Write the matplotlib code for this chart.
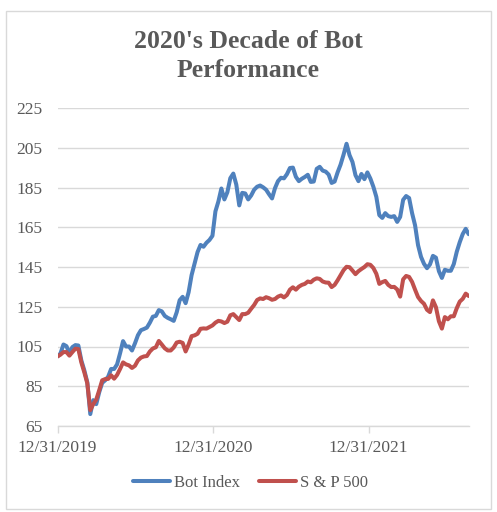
import numpy as np
import pandas as pd
import matplotlib
matplotlib.use("Agg")
import matplotlib.pyplot as plt
import matplotlib.dates as mdates
from matplotlib.patches import Rectangle

# weekly closes, indexed to 100 at 12/31/2019
start_date = "2019-12-31"

bot_index = [
    100, 101.5, 106, 105.2, 101.6, 104.7, 105.7, 105.5, 98, 93,
    87, 71, 78, 76, 82, 86.7, 88, 89.8, 93.7, 93.7,
    96, 101.6, 107.7, 105, 105, 103, 106.6, 110.7, 113.2, 113.8,
    114.5, 117, 120, 120.4, 123.3, 122.7, 120.4, 119.4, 118.7, 117.9,
    122.2, 128.3, 130, 126.8, 132.3, 140.9, 146.6, 152.5, 156.1, 155.2,
    157.2, 158.6, 160.7, 173, 178, 184.5, 179, 182.6, 189.7, 192,
    186.5, 176, 182.3, 182, 179, 181, 183.9, 185.4, 186, 185.1,
    183.9, 181.6, 179.5, 184.7, 188.2, 189.9, 189.6, 191.7, 194.8, 195,
    190.4, 188.2, 189.4, 190.3, 191.4, 187.8, 188, 194.4, 195.4, 193.5,
    193, 191.5, 187.3, 188, 192.6, 196.5, 201.5, 207, 201.3, 197.8,
    191.2, 188.2, 191.8, 189.2, 192.6, 189.5, 185.4, 180.3, 171.1, 169.7,
    172.1, 170.6, 170.2, 170.6, 167.7, 170.2, 178.8, 180.7, 179.7, 172.1,
    166, 156, 150.1, 146.6, 144.4, 146.3, 150.6, 149.7, 142.9, 139.5,
    143.6, 143.1, 143.1, 146.5, 152.7, 157.5, 161.6, 164.2, 161.5,
]

sp500 = [
    100, 100.9, 102.2, 102.2, 100.4, 102.2, 103.9, 103.7, 97, 92,
    86.5, 73, 76, 78.3, 83, 88, 88.6, 88.7, 90.5, 88.8,
    90.7, 93.7, 97, 96, 95.5, 94.2, 95.3, 98, 99.4, 100,
    100.2, 102.5, 104, 104.6, 107.8, 106, 104.1, 103, 103, 104.5,
    107, 107.4, 106.8, 102.5, 106, 110.2, 110.6, 111.4, 113.9, 114.1,
    114, 114.8, 115.6, 117, 117.9, 117.6, 116.8, 117.5, 120.7, 121.3,
    119.8, 118.3, 121.3, 121.3, 122, 124, 125.9, 128.4, 129.2, 128.9,
    129.8, 129.3, 128.5, 128.9, 130.1, 130.7, 129.7, 130.9, 133.6, 134.8,
    133.6, 135.1, 136, 136.5, 137.7, 137.3, 138.6, 139.3, 139, 137.7,
    137.2, 137.1, 134.9, 136, 138.3, 140.8, 143.4, 145.1, 144.9, 143.2,
    141.4, 142.9, 144, 145, 146.4, 146.1, 144.5, 141.6, 136.5, 137.4,
    138, 136, 134.9, 135, 133.7, 130.1, 138.8, 140.5, 140, 137.5,
    133.6, 129.9, 127.9, 126.5, 123.5, 122.3, 128.2, 124.8, 117.7, 114,
    119.8, 118.7, 120.2, 120.2, 124.3, 127.6, 129, 131.6, 130.4,
]

x_ticks = ["2019-12-31", "2020-12-31", "2021-12-31"]
y_ticks = list(range(65, 226, 20))

dates = pd.date_range(start_date, periods=len(bot_index), freq="7D")

BLUE = "#4F81BD"
RED = "#C0504D"
GREY_TXT = "#595959"
GRID = "#D9D9D9"
SERIF = ["Liberation Serif", "DejaVu Serif"]

plt.rcParams["font.family"] = SERIF

fig = plt.figure(figsize=(4.97, 5.12), dpi=100)
ax = fig.add_axes([57.5 / 497, 1 - 426 / 512, (468.7 - 57.5) / 497, (426 - 108) / 512])

ax.plot(dates, bot_index, color=BLUE, lw=2.9, label="Bot Index", solid_capstyle="round")
ax.plot(dates, sp500, color=RED, lw=2.9, label="S & P 500", solid_capstyle="round")

ax.set_xlim(dates[0], dates[-1])
ax.set_ylim(65, 225)
ax.set_yticks(y_ticks)
ax.set_xticks(pd.to_datetime(x_ticks))
ax.xaxis.set_major_formatter(mdates.DateFormatter("%m/%d/%Y"))

ax.grid(axis="y", color=GRID, lw=1)
ax.set_axisbelow(True)
for side in ["left", "right", "top"]:
    ax.spines[side].set_visible(False)
ax.spines["bottom"].set_color(GRID)
ax.spines["bottom"].set_linewidth(1)
ax.tick_params(axis="y", length=0, pad=11, labelsize=12.5, labelcolor=GREY_TXT)
ax.tick_params(axis="x", length=5, width=1, color=GRID, pad=5, labelsize=12.5, labelcolor=GREY_TXT)

fig.text(0.5, 1 - 56 / 512, "2020's Decade of Bot\nPerformance", ha="center", va="center",
         fontsize=18.5, fontweight="bold", color=GREY_TXT, linespacing=1.28)

fig.legend(loc="center", bbox_to_anchor=(0.504, 1 - 483 / 512), ncol=2, frameon=False,
           fontsize=12, handlelength=2.2, handletextpad=0.25, columnspacing=1.15,
           labelcolor=GREY_TXT)

# outer chart border
fig.patches.append(Rectangle((6 / 497, 1 - 509 / 512), 485 / 497, 498 / 512,
                             transform=fig.transFigure, fill=False, edgecolor=GRID, lw=1))

fig.savefig("out.png", dpi=100)
